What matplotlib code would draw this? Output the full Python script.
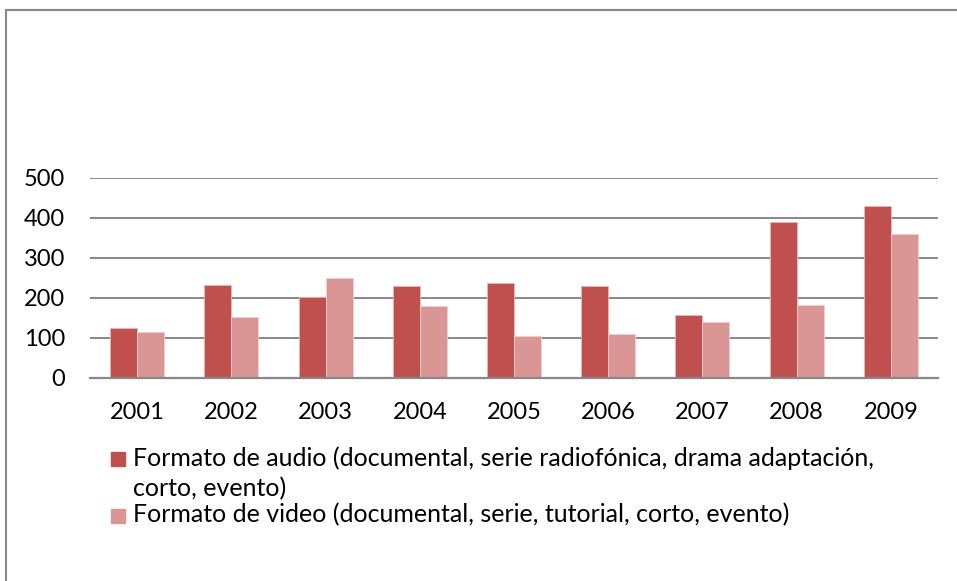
import numpy as np
import matplotlib
matplotlib.use("Agg")
import matplotlib.pyplot as plt
from matplotlib.patches import Rectangle

plt.rcParams['font.family'] = ['Lato', 'DejaVu Sans']

# data
years = ['2001', '2002', '2003', '2004', '2005', '2006', '2007', '2008', '2009']
audio = [124, 232, 203, 230, 237, 230, 158, 390, 430]
video = [114, 153, 251, 181, 104, 110, 140, 183, 359]
series_names = [
    ['Formato de audio (documental, serie radiofónica, drama adaptación,', 'corto, evento)'],
    ['Formato de video (documental, serie, tutorial, corto, evento)'],
]
colors = ['#C0504D', '#D99694']
yticks = [0, 100, 200, 300, 400, 500]

W, H = 957, 581
fig = plt.figure(figsize=(W / 100, H / 100), dpi=100)
ax = fig.add_axes([90 / W, 1 - 378 / H, 848 / W, 200 / H])

x = np.arange(len(years))
bw = 0.287
ax.bar(x - bw / 2, audio, bw, color=colors[0], edgecolor='#e8b8b6', linewidth=0.6, zorder=3)
ax.bar(x + bw / 2, video, bw, color=colors[1], edgecolor='#f0d0cf', linewidth=0.6, zorder=3)

ax.set_xlim(-0.5, len(years) - 0.5)
ax.set_ylim(0, 500)
ax.set_yticks(yticks)
ax.set_xticks(x)
ax.set_xticklabels(years)
ax.grid(axis='y', color='#888888', linewidth=1.4, zorder=0)
for s in ['top', 'right', 'left']:
    ax.spines[s].set_visible(False)
ax.spines['bottom'].set_color('#888888')
ax.spines['bottom'].set_linewidth(1.6)
ax.spines['bottom'].set_zorder(4)
ax.tick_params(axis='both', length=0, labelsize=17, colors='black')
ax.tick_params(axis='x', pad=17)
ax.tick_params(axis='y', pad=18)

# legend drawn by hand so the swatch sits on the first text line
fig.add_artist(Rectangle((111 / W, 1 - 466 / H), 14 / W, 14 / H, transform=fig.transFigure,
                         color=colors[0]))
fig.text(133 / W, 1 - 466 / H, series_names[0][0], fontsize=18, ha='left', va='baseline')
fig.text(133 / W, 1 - 496 / H, series_names[0][1], fontsize=18, ha='left', va='baseline')
fig.add_artist(Rectangle((111 / W, 1 - 523 / H), 14 / W, 14 / H, transform=fig.transFigure,
                         color=colors[1]))
fig.text(133 / W, 1 - 522 / H, series_names[1][0], fontsize=18, ha='left', va='baseline')

# outer chart frame
fig.add_artist(Rectangle((6 / W, -0.1), 1.1, 1.1 - 10 / H, transform=fig.transFigure,
                         fill=False, edgecolor='#888888', linewidth=1.5))

fig.savefig('out.png', dpi=100, facecolor='white')
